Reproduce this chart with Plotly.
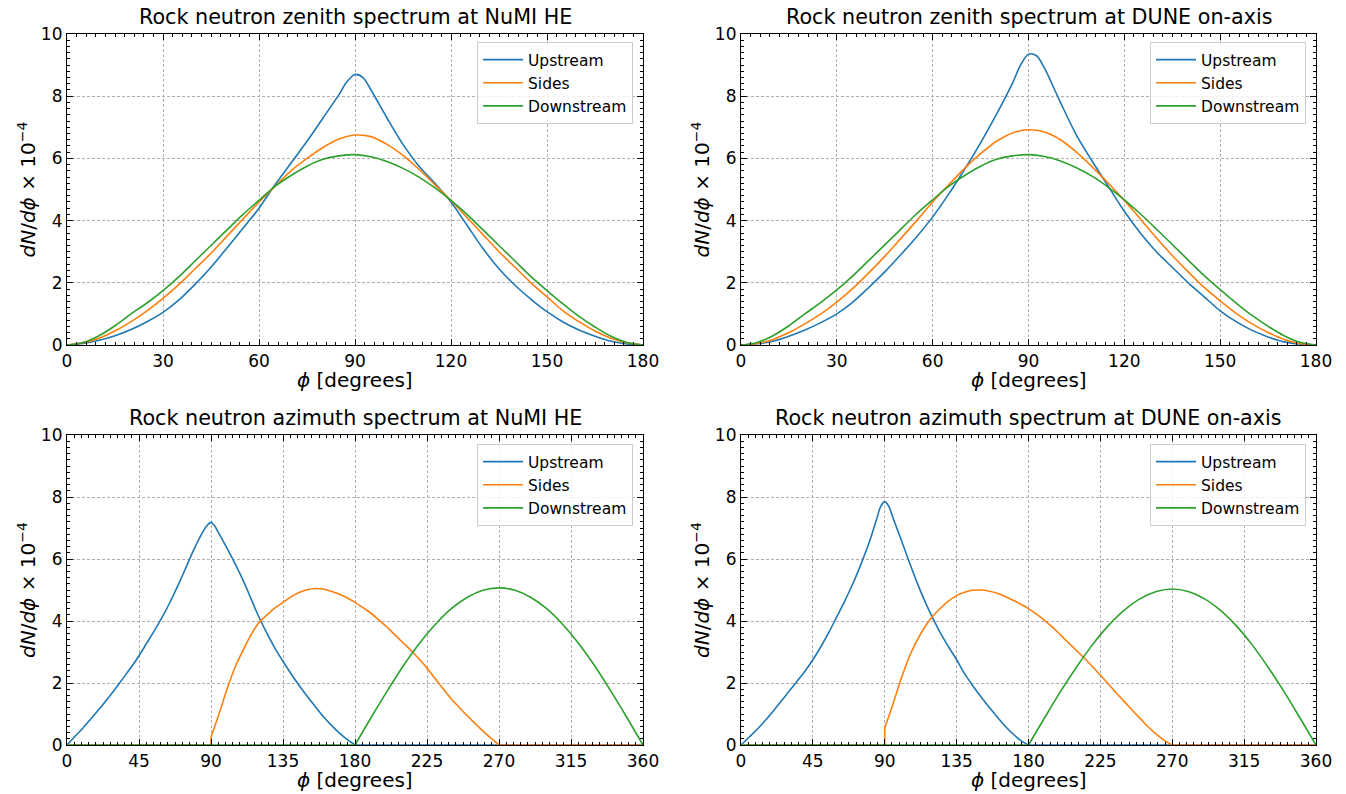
import plotly.graph_objects as go

# angle grids (degrees); the peaked curves get two extra samples round 90
zen_deg = list(range(0, 181, 5))
peak_deg = list(range(0, 86, 5)) + [87.5, 90, 92.5] + list(range(95, 181, 5))

numi_zen_up = [0, 0.05, 0.15, 0.3, 0.5, 0.75, 1.05, 1.45, 1.95, 2.5, 3.12, 3.75, 4.4, 5.15, 5.85,
               6.55, 7.3, 8.05, 8.47, 8.7, 8.6, 8.2, 7.3, 6.45, 5.75, 5.2, 4.6, 3.85, 3.1, 2.45,
               1.92, 1.47, 1.07, 0.74, 0.48, 0.28, 0.12, 0.03, 0]
numi_zen_sides = [0, 0.07, 0.22, 0.45, 0.75, 1.1, 1.5, 1.95, 2.45, 2.95, 3.5, 4.05, 4.6, 5.1, 5.6,
                  6.0, 6.35, 6.62, 6.75, 6.7, 6.45, 6.1, 5.65, 5.15, 4.65, 4.1, 3.55, 3.0, 2.5, 2.0,
                  1.55, 1.1, 0.75, 0.45, 0.22, 0.07, 0]
numi_zen_down = [0, 0.08, 0.3, 0.62, 1.0, 1.35, 1.75, 2.2, 2.7, 3.2, 3.7, 4.2, 4.65, 5.1, 5.45,
                 5.75, 5.97, 6.08, 6.12, 6.05, 5.9, 5.68, 5.4, 5.05, 4.65, 4.2, 3.7, 3.2, 2.7, 2.2,
                 1.75, 1.32, 0.92, 0.58, 0.28, 0.08, 0]

dune_zen_up = [0, 0.04, 0.12, 0.28, 0.48, 0.72, 1.0, 1.38, 1.85, 2.35, 2.9, 3.48, 4.12, 4.85, 5.65,
               6.5, 7.42, 8.42, 9.0, 9.35, 9.3, 8.9, 7.8, 6.75, 5.9, 5.1, 4.3, 3.6, 3.0, 2.5,
               2.0, 1.55, 1.1, 0.75, 0.47, 0.26, 0.1, 0.03, 0]
dune_zen_sides = [0, 0.05, 0.18, 0.4, 0.68, 1.0, 1.38, 1.82, 2.32, 2.85, 3.42, 4.0, 4.6, 5.15, 5.68,
                  6.15, 6.55, 6.82, 6.92, 6.85, 6.6, 6.2, 5.72, 5.2, 4.65, 4.05, 3.45, 2.88, 2.35,
                  1.85, 1.42, 1.02, 0.68, 0.4, 0.18, 0.05, 0]
dune_zen_down = [0, 0.08, 0.3, 0.62, 1.0, 1.37, 1.77, 2.22, 2.72, 3.22, 3.72, 4.22, 4.67, 5.1, 5.45,
                 5.75, 5.97, 6.08, 6.12, 6.06, 5.92, 5.7, 5.42, 5.07, 4.67, 4.22, 3.73, 3.23, 2.73,
                 2.23, 1.78, 1.35, 0.95, 0.6, 0.3, 0.09, 0]

# azimuth spectra (non-zero part of each curve)
numi_az_up = [0, 0.28, 0.55, 0.85, 1.15, 1.47, 1.8, 2.15, 2.5, 2.88, 3.3, 3.72, 4.17, 4.67, 5.22,
              5.8, 6.38, 6.88, 7.08, 7.18, 7.05, 6.82, 6.35, 5.85, 5.32, 4.72, 4.12, 3.6, 3.12,
              2.7, 2.3, 1.93, 1.58, 1.25, 0.93, 0.65, 0.4, 0.18, 0]
dune_az_up = [0, 0.25, 0.5, 0.78, 1.08, 1.4, 1.73, 2.05, 2.38, 2.75, 3.17, 3.63, 4.14, 4.65, 5.2,
              5.82, 6.5, 7.3, 7.7, 7.85, 7.7, 7.35, 6.66, 5.95, 5.27, 4.65, 4.1, 3.6, 3.16,
              2.75, 2.3, 1.92, 1.57, 1.24, 0.93, 0.63, 0.37, 0.15, 0]

az_sides_deg = list(range(90, 271, 5))
numi_az_sides = [0.25, 1.0, 1.8, 2.5, 3.05, 3.55, 3.95, 4.2, 4.42, 4.6, 4.78, 4.92, 5.01,
                 5.05, 5.03, 4.96, 4.87, 4.75, 4.6, 4.43, 4.25, 4.03, 3.8, 3.55, 3.3, 3.05, 2.78,
                 2.48, 2.15, 1.82, 1.5, 1.22, 0.95, 0.7, 0.45, 0.22, 0]
dune_az_sides = [0.55, 1.3, 2.1, 2.8, 3.35, 3.8, 4.15, 4.42, 4.65, 4.82, 4.93, 4.99, 5.0,
                 4.97, 4.9, 4.8, 4.68, 4.55, 4.4, 4.22, 4.02, 3.8, 3.55, 3.3, 3.05, 2.8, 2.53,
                 2.25, 1.97, 1.68, 1.4, 1.12, 0.85, 0.58, 0.35, 0.15, 0]

az_down_deg = [180, 190, 200, 210, 220, 230, 240, 250, 260, 270, 280, 290, 300, 310, 320,
               330, 340, 350, 360]
numi_az_down = [0, 0.88, 1.73, 2.54, 3.26, 3.88, 4.39, 4.76, 4.99, 5.07, 4.99, 4.76, 4.39,
                3.88, 3.26, 2.54, 1.73, 0.88, 0]
dune_az_down = [0, 0.87, 1.72, 2.51, 3.23, 3.85, 4.35, 4.72, 4.95, 5.03, 4.95, 4.72, 4.35,
                3.85, 3.23, 2.51, 1.72, 0.87, 0]

# zero-valued stretches of the azimuth curves
up_zero_deg, up_zero = [180, 360], [0, 0]
numi_sides_zero_deg, numi_sides_zero = [0, 90, 90, None, 270, 360], [0, 0, 0.25, None, 0, 0]
dune_sides_zero_deg, dune_sides_zero = [0, 90, 90, None, 270, 360], [0, 0, 0.55, None, 0, 0]
down_zero_deg, down_zero = [0, 180], [0, 0]

names = ["Upstream", "Sides", "Downstream"]
colors = ["#1f77b4", "#ff7f0e", "#2ca02c"]
titles = ["Rock neutron zenith spectrum at NuMI HE", "Rock neutron zenith spectrum at DUNE on-axis",
          "Rock neutron azimuth spectrum at NuMI HE", "Rock neutron azimuth spectrum at DUNE on-axis"]

panels = [
    [(peak_deg, numi_zen_up), (zen_deg, numi_zen_sides), (zen_deg, numi_zen_down)],
    [(peak_deg, dune_zen_up), (zen_deg, dune_zen_sides), (zen_deg, dune_zen_down)],
    [(peak_deg, numi_az_up), (az_sides_deg, numi_az_sides), (az_down_deg, numi_az_down)],
    [(peak_deg, dune_az_up), (az_sides_deg, dune_az_sides), (az_down_deg, dune_az_down)],
]
zero_parts = [
    None, None,
    [(up_zero_deg, up_zero), (numi_sides_zero_deg, numi_sides_zero), (down_zero_deg, down_zero)],
    [(up_zero_deg, up_zero), (dune_sides_zero_deg, dune_sides_zero), (down_zero_deg, down_zero)],
]

W, H = 1346, 794
# axes boxes in pixels: left, right, top, bottom
boxes = [(67, 643, 34, 345), (741, 1316, 34, 345), (67, 643, 435, 745), (741, 1316, 435, 745)]
legend_pos = [(633, 42), (1306, 42), (633, 444), (1306, 444)]

font = "DejaVu Sans, Liberation Sans, sans-serif"
fig = go.Figure()
layout = dict(width=W, height=H, margin=dict(l=0, r=0, t=0, b=0), plot_bgcolor="white",
              paper_bgcolor="white", font=dict(family=font, color="black"), annotations=[])

def px(x):
    return x / W

def py(y):
    return 1 - y / H

for i in range(4):
    n = "" if i == 0 else str(i + 1)
    for j, (xs, ys) in enumerate(panels[i]):
        fig.add_trace(go.Scatter(x=xs, y=ys, mode="lines", name=names[j],
                                 line=dict(color=colors[j], width=1.6, shape="spline", smoothing=0.9),
                                 xaxis="x" + n, yaxis="y" + n, legend="legend" + n))
        if zero_parts[i]:
            zx, zy = zero_parts[i][j]
            fig.add_trace(go.Scatter(x=zx, y=zy, mode="lines", showlegend=False, hoverinfo="skip",
                                     line=dict(color=colors[j], width=1.6),
                                     xaxis="x" + n, yaxis="y" + n))
    l, r, t, b = boxes[i]
    xmax = 180 if i < 2 else 360
    xd = 30 if i < 2 else 45
    common = dict(showline=True, linecolor="black", linewidth=1.2, mirror="allticks", ticks="inside",
                  ticklen=6, tickcolor="black", showgrid=True, gridcolor="#b0b0b0", griddash="3px,2px",
                  gridwidth=0.8, zeroline=False, tickfont=dict(size=17), automargin=False)
    layout["xaxis" + n] = dict(common, domain=[px(l), px(r)], range=[0, xmax], dtick=xd, tick0=0,
                               anchor="y" + n,
                               minor=dict(ticks="inside", ticklen=3, dtick=xd / 10, tickcolor="black",
                                          showgrid=False))
    layout["yaxis" + n] = dict(common, domain=[py(b), py(t)], range=[0, 10], dtick=2, tick0=0,
                               anchor="x" + n,
                               minor=dict(ticks="inside", ticklen=3, dtick=0.2, tickcolor="black",
                                          showgrid=False))
    lx, ly = legend_pos[i]
    layout["legend" + n] = dict(x=px(lx), y=py(ly), xanchor="right", yanchor="top", itemwidth=40,
                                bgcolor="rgba(255,255,255,0.8)", bordercolor="#cccccc", borderwidth=1,
                                font=dict(size=15.5))
    layout["annotations"] += [
        dict(text=titles[i], x=px((l + r) / 2), y=py(t - 3), xref="paper", yref="paper",
             xanchor="center", yanchor="bottom", showarrow=False, font=dict(size=20.7)),
        dict(text="<i>ϕ</i> [degrees]", x=px((l + r) / 2), y=py(b + 35), xref="paper", yref="paper",
             xanchor="center", yanchor="middle", showarrow=False, font=dict(size=20)),
        dict(text="<i>dN</i>/<i>dϕ</i> × 10<sup>−4</sup>", x=px(l - 40), y=py((t + b) / 2),
             xref="paper", yref="paper", xanchor="center", yanchor="middle", textangle=-90,
             showarrow=False, font=dict(size=20)),
    ]

fig.update_layout(**layout)
# drop the default 8px page margin so the figure fills the window
fig.write_html("out.html", config={"displayModeBar": False},
               post_script="document.body.style.margin='0';")
